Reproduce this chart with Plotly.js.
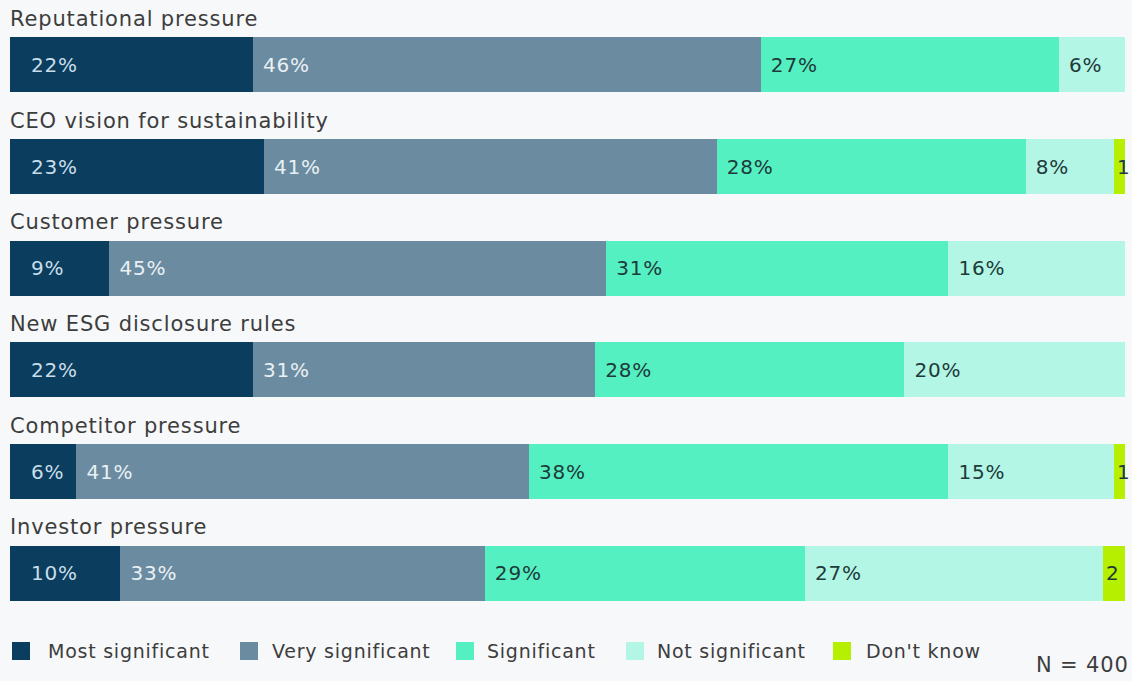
<!DOCTYPE html>
<html>
<head>
<meta charset="utf-8">
<script src="https://cdn.plot.ly/plotly-3.0.1.min.js"></script>
<style>
html,body{margin:0;padding:0;background:#f7f8fa;}
#chart{width:1132px;height:681px;}
text{letter-spacing:0.04em;}
</style>
</head>
<body>
<div id="chart"></div>
<script>
const categories = ["Reputational pressure","CEO vision for sustainability","Customer pressure","New ESG disclosure rules","Competitor pressure","Investor pressure"];
const mostSignificant = [22,23,9,22,6,10];
const verySignificant = [46,41,45,31,41,33];
const significant = [27,28,31,28,38,29];
const notSignificant = [6,8,16,20,15,27];
const dontKnow = [null,1,null,null,1,2];
const seriesNames = ["Most significant","Very significant","Significant","Not significant","Don't know"];
const sampleNote = "N = 400";

const FONT = "'DejaVu Sans', Inter, sans-serif";
const colors = ["#0b3d5e","#6b8ca0","#55f0c1","#b3f6e5","#b6f000"];
const textColors = ["#c9dde9","#e9f0f4","#1e3a3a","#1e3a3a","#1e3a3a"];
const series = [mostSignificant, verySignificant, significant, notSignificant, dontKnow];
const prefixes = ["\u2002\u00a0", "\u00a0", "\u00a0", "\u00a0", ""];

const traces = series.map((vals, i) => ({
  type: "bar",
  orientation: "h",
  name: seriesNames[i],
  y: categories,
  x: vals,
  marker: {color: colors[i], line: {width: 0}},
  texttemplate: i === 4 ? "%{x}" : prefixes[i] + "%{x}%",
  textposition: "inside",
  insidetextanchor: "start",
  textfont: {family: FONT, size: 20, color: textColors[i]},
  constraintext: "none",
  cliponaxis: false,
  showlegend: false,
  hoverinfo: "name+x"
}));

// plot area: x from 10px to 1125px, y from 14px to 624px
const PX0 = 10, PW = 1115, PY1 = 624, PH = 610;
const px = v => (v - PX0) / PW;
const py = v => (PY1 - v) / PH;

const annotations = categories.map(c => ({
  xref: "paper", yref: "y", x: px(8), y: c, yshift: 46,
  xanchor: "left", yanchor: "middle", showarrow: false,
  text: c, font: {family: FONT, size: 21, color: "#3d3d3d"}
}));
annotations.push({
  xref: "paper", yref: "paper", x: px(1131), y: py(665), xanchor: "right", yanchor: "middle",
  showarrow: false, text: sampleNote, font: {family: FONT, size: 21, color: "#3d3d3d"}
});

// custom legend (squares + labels)
const legendSquareX = [12, 240, 456, 626, 833];
const legendTextX = [46, 270, 485, 655, 864];
const shapes = [];
seriesNames.forEach((n, i) => {
  shapes.push({type: "rect", xref: "paper", yref: "paper",
    x0: px(legendSquareX[i]), x1: px(legendSquareX[i] + 18),
    y0: py(660), y1: py(642), fillcolor: colors[i], line: {width: 0}});
  annotations.push({xref: "paper", yref: "paper", x: px(legendTextX[i]), y: py(651),
    xanchor: "left", yanchor: "middle", showarrow: false, text: n,
    font: {family: FONT, size: 19, color: "#3d3d3d"}});
});

const layout = {
  width: 1132, height: 681,
  margin: {l: 10, r: 7, t: 14, b: 57},
  paper_bgcolor: "#f7f8fa", plot_bgcolor: "#f7f8fa",
  barmode: "stack",
  bargap: 0.46,
  uniformtext: {minsize: 20, mode: "show"},
  showlegend: false,
  xaxis: {range: [0, 101], visible: false, fixedrange: true},
  yaxis: {type: "category", categoryorder: "array", categoryarray: categories,
    range: [5.5, -0.5], visible: false, fixedrange: true},
  annotations: annotations,
  shapes: shapes,
  font: {family: FONT}
};

Plotly.newPlot("chart", traces, layout, {displayModeBar: false, staticPlot: true});
</script>
</body>
</html>
